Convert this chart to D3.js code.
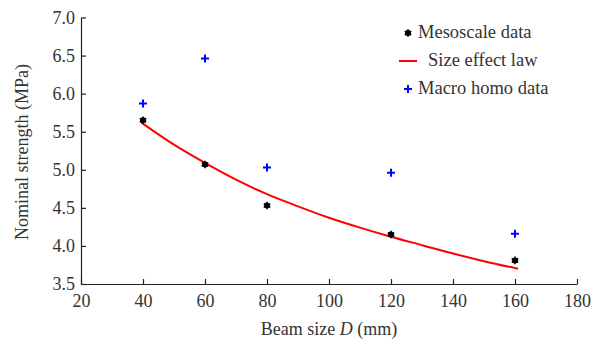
<!DOCTYPE html>
<html lang="en">
<head>
    <meta charset="utf-8">
    <script src="https://d3js.org/d3.v7.min.js"></script>
    <style>
        body {margin: 0; background: #fff;}
        text {font-family: "Liberation Serif", "Times New Roman", serif; fill: #333;}
    </style>
</head>
<body>
    <svg id="chart" width="592" height="345"></svg>

    <script>
        // data
        const beamSize = [40, 60, 80, 120, 160];
        const mesoscale = [5.65, 5.07, 4.53, 4.15, 3.81];
        const macroHomo = [5.87, 6.46, 5.03, 4.96, 4.16];
        // points along the fitted size effect curve
        const lawD = [39.5, 50, 60, 70, 80, 90, 100, 110, 120, 130, 140, 150, 161];
        const lawS = [5.62, 5.33, 5.09, 4.87, 4.68, 4.52, 4.37, 4.24, 4.12, 4.01, 3.90, 3.80, 3.70];
        const xTicks = [20, 40, 60, 80, 100, 120, 140, 160, 180];
        const yTicks = [3.5, 4.0, 4.5, 5.0, 5.5, 6.0, 6.5, 7.0];

        const svg = d3.select("#chart");
        const margin = {left: 81, right: 15, top: 17.5, bottom: 61};
        const width = 592 - margin.left - margin.right,
            height = 345 - margin.top - margin.bottom;

        const x = d3.scaleLinear().domain([20, 180]).range([margin.left, margin.left + width]);
        const y = d3.scaleLinear().domain([3.5, 7.0]).range([margin.top + height, margin.top]);

        // axes, ticks pointing inward
        const gx = svg.append("g")
            .attr("transform", `translate(0,${y(3.5)})`)
            .call(d3.axisBottom(x).tickValues(xTicks).tickSizeInner(-5).tickSizeOuter(0).tickPadding(10));
        const gy = svg.append("g")
            .attr("transform", `translate(${x(20)},0)`)
            .call(d3.axisLeft(y).tickValues(yTicks).tickFormat(d3.format(".1f")).tickSizeInner(-5).tickSizeOuter(0).tickPadding(6));

        [gx, gy].forEach(g => {
            g.selectAll("path, line").attr("stroke", "#222").attr("stroke-width", 1.2);
            g.selectAll("text").style("font-size", "18px").attr("fill", "#333");
        });

        // size effect law
        svg.append("path")
            .datum(lawD.map((d, i) => [d, lawS[i]]))
            .attr("fill", "none")
            .attr("stroke", "#f00")
            .attr("stroke-width", 2)
            .attr("d", d3.line().x(d => x(d[0])).y(d => y(d[1])).curve(d3.curveMonotoneX));

        const star = d3.symbol().type(d3.symbolAsterisk).size(40);

        function drawStar(g, cx, cy) {
            g.append("circle").attr("cx", cx).attr("cy", cy).attr("r", 3).attr("fill", "#000");
            g.append("path").attr("d", star).attr("transform", `translate(${cx},${cy})`)
                .attr("stroke", "#000").attr("stroke-width", 1.5).attr("fill", "none");
        }
        function drawPlus(g, cx, cy) {
            g.append("path")
                .attr("d", `M${cx - 4},${cy}H${cx + 4}M${cx},${cy - 4}V${cy + 4}`)
                .attr("stroke", "#00f").attr("stroke-width", 2).attr("fill", "none");
        }

        const marks = svg.append("g");
        beamSize.forEach((d, i) => drawStar(marks, x(d), y(mesoscale[i])));
        beamSize.forEach((d, i) => drawPlus(marks, x(d), y(macroHomo[i])));

        // legend
        const leg = svg.append("g").style("font-size", "18.5px");
        drawStar(leg, 408, 33);
        leg.append("text").attr("x", 418).attr("y", 38).text("Mesoscale data");
        leg.append("line").attr("x1", 399).attr("x2", 417).attr("y1", 61).attr("y2", 61)
            .attr("stroke", "#f00").attr("stroke-width", 2);
        leg.append("text").attr("x", 428).attr("y", 66).text("Size effect law");
        drawPlus(leg, 408, 89);
        leg.append("text").attr("x", 418).attr("y", 94).text("Macro homo data");

        // axis titles
        const xt = svg.append("text")
            .attr("x", x(100)).attr("y", 335)
            .attr("text-anchor", "middle")
            .style("font-size", "18px");
        xt.append("tspan").text("Beam size ");
        xt.append("tspan").attr("font-style", "italic").text("D");
        xt.append("tspan").text(" (mm)");

        svg.append("text")
            .attr("transform", `translate(28,152) rotate(-90)`)
            .attr("text-anchor", "middle")
            .style("font-size", "18px")
            .text("Nominal strength (MPa)");
    </script>
</body>
</html>
